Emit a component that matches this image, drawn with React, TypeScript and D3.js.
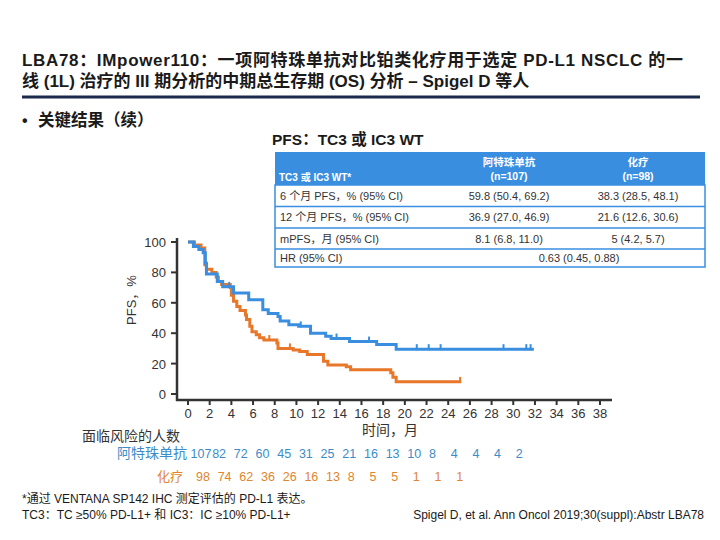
import React from "react";
import * as d3 from "d3";

const atezoTimes = [0, 0.5, 1.0, 1.4, 1.6, 1.7, 2.7, 3.2, 4.2, 5.6, 6.9, 7.4, 8.3, 8.5, 9.3, 10.2, 11.3, 12.7, 13.2, 14.9, 17.4, 19.2, 31.9];
const atezoSurv = [100, 97, 95, 93, 86, 79, 74, 70.5, 66.5, 62, 55.5, 53, 51, 48, 45.5, 44.5, 40, 38, 36.5, 34.5, 32.5, 29.5, 29.5];
const atezoCensor = [3.8, 10.4, 13.7, 16.7, 21.1, 22.2, 23.3, 29.1, 31.2, 31.6];

const chemoTimes = [0, 0.6, 1.2, 1.55, 1.7, 2.2, 2.6, 2.8, 3.1, 3.9, 4.0, 4.2, 4.5, 4.8, 5.3, 5.4, 5.7, 5.9, 6.3, 6.6, 7.0, 8.2, 8.3, 9.7, 10.3, 11.0, 12.5, 12.9, 14.6, 15.0, 18.7, 18.9, 19.2, 25.2];
const chemoSurv = [100, 98, 96, 85, 82, 80, 77, 74, 72, 70, 65, 61, 57.5, 55, 52, 49, 44.5, 41, 39, 37, 35.5, 33.5, 30, 29, 28, 26, 21.5, 19, 18, 16, 14, 11, 8, 8];
const chemoCensor = [7.5, 9.4, 25.1];

const xTicks = [0, 2, 4, 6, 8, 10, 12, 14, 16, 18, 20, 22, 24, 26, 28, 30, 32, 34, 36, 38];
const yTicks = [0, 20, 40, 60, 80, 100];

const atezoRiskTimes = [0, 2, 4, 6, 8, 10, 12, 14, 16, 18, 20, 22, 24, 26, 28, 30];
const atezoRisk = [107, 82, 72, 60, 45, 31, 25, 21, 16, 13, 10, 8, 4, 4, 4, 2];
const chemoRiskTimes = [0, 2, 4, 6, 8, 10, 12, 14, 16, 18, 20, 22, 24];
const chemoRisk = [98, 74, 62, 36, 26, 16, 13, 8, 5, 5, 1, 1, 1];

const tableRowLabels = ["6 个月 PFS，% (95% CI)", "12 个月 PFS，% (95% CI)", "mPFS，月 (95% CI)", "HR (95% CI)"];
const tableAtezo = ["59.8 (50.4, 69.2)", "36.9 (27.0, 46.9)", "8.1 (6.8, 11.0)", ""];
const tableChemo = ["38.3 (28.5, 48.1)", "21.6 (12.6, 30.6)", "5 (4.2, 5.7)", ""];
const tableHR = "0.63 (0.45, 0.88)";

const BLUE = "#3a8ee0";
const ORANGE = "#e8772a";
const FONT = "'Liberation Sans', Arial, 'Noto Sans CJK SC', sans-serif";
const TXT = "#333333";

function stepAt(times: number[], surv: number[], t: number) {
  let v = surv[0];
  for (let i = 0; i < times.length; i++) if (times[i] <= t) v = surv[i];
  return v;
}

export default function App() {
  const x = d3.scaleLinear().domain([0, 38]).range([188, 600]);
  const y = d3.scaleLinear().domain([0, 100]).range([394, 242]);
  const line = d3
    .line<[number, number]>()
    .x((d) => x(d[0]))
    .y((d) => y(d[1]))
    .curve(d3.curveStepAfter);
  const aPts = atezoTimes.map((t, i) => [t, atezoSurv[i]] as [number, number]);
  const cPts = chemoTimes.map((t, i) => [t, chemoSurv[i]] as [number, number]);

  const rowY = [185, 206.5, 228, 249, 267];
  const tL = 275, tR = 705;

  return (
    <svg width={720} height={540} style={{ position: "absolute", left: 0, top: 0, background: "#fff" }} fontFamily={FONT}>
      {/* Title */}
      <text x={22} y={66} fontSize={17} fontWeight="bold" fill="#1a1a1a" textLength={661} lengthAdjust="spacing">LBA78：IMpower110：一项阿特珠单抗对比铂类化疗用于选定 PD-L1 NSCLC 的一</text>
      <text x={22} y={87} fontSize={17} fontWeight="bold" fill="#1a1a1a">线 (1L) 治疗的 III 期分析的中期总生存期 (OS) 分析 – Spigel D 等人</text>
      <line x1={22} x2={700} y1={97} y2={97} stroke="#1b2a4a" strokeWidth={3} />

      <text x={22} y={126} fontSize={16} fontWeight="bold" fill="#1a1a1a">•</text>
      <text x={38} y={126} fontSize={16.5} fontWeight="bold" fill="#1a1a1a">关键结果（续）</text>
      <text x={272} y={145} fontSize={15.5} fontWeight="bold" fill="#1a1a1a">PFS：TC3 或 IC3 WT</text>

      {/* Table */}
      <rect x={tL} y={152} width={tR - tL} height={rowY[0] - 152} fill={BLUE} />
      <rect x={tL} y={rowY[0]} width={tR - tL} height={rowY[4] - rowY[0]} fill="#fff" stroke={BLUE} strokeWidth={1.5} />
      {rowY.slice(1, 4).map((yy, i) => (
        <line key={i} x1={tL} x2={tR} y1={yy} y2={yy} stroke={BLUE} strokeWidth={1.5} />
      ))}
      <text x={279} y={181} fontSize={10} fontWeight="bold" fill="#fff">TC3 或 IC3 WT*</text>
      <text x={509} y={166} fontSize={10.5} fontWeight="bold" fill="#fff" textAnchor="middle">阿特珠单抗</text>
      <text x={509} y={180} fontSize={10.5} fontWeight="bold" fill="#fff" textAnchor="middle">(n=107)</text>
      <text x={638} y={166} fontSize={10.5} fontWeight="bold" fill="#fff" textAnchor="middle">化疗</text>
      <text x={638} y={180} fontSize={10.5} fontWeight="bold" fill="#fff" textAnchor="middle">(n=98)</text>
      {tableRowLabels.map((lab, i) => {
        const cy = (rowY[i] + rowY[i + 1]) / 2 + 4;
        return (
          <g key={i} fontSize={11} fill={TXT}>
            <text x={280} y={cy}>{lab}</text>
            {i < 3 ? (
              <>
                <text x={509} y={cy} textAnchor="middle">{tableAtezo[i]}</text>
                <text x={638} y={cy} textAnchor="middle">{tableChemo[i]}</text>
              </>
            ) : (
              <text x={579} y={cy} textAnchor="middle">{tableHR}</text>
            )}
          </g>
        );
      })}

      {/* Axes */}
      <line x1={177} x2={177} y1={238} y2={401} stroke={TXT} strokeWidth={2.5} />
      <line x1={176} x2={612} y1={400} y2={400} stroke={TXT} strokeWidth={2.5} />
      {yTicks.map((t) => (
        <g key={t}>
          <line x1={171} x2={177} y1={y(t)} y2={y(t)} stroke={TXT} strokeWidth={2} />
          <text x={166} y={y(t) + 5} fontSize={13} fill={TXT} textAnchor="end">{t}</text>
        </g>
      ))}
      {xTicks.map((t) => (
        <g key={t}>
          <line x1={x(t)} x2={x(t)} y1={400} y2={405} stroke={TXT} strokeWidth={2} />
          <text x={x(t)} y={418} fontSize={13} fill={TXT} textAnchor="middle">{t}</text>
        </g>
      ))}
      <text transform="translate(136,300) rotate(-90)" fontSize={13} fill={TXT} textAnchor="middle">PFS，%</text>
      <text x={390} y={435} fontSize={14} fill={TXT} textAnchor="middle">时间，月</text>

      {/* Curves */}
      <path d={line(cPts) || ""} fill="none" stroke={ORANGE} strokeWidth={3} />
      <path d={line(aPts) || ""} fill="none" stroke={BLUE} strokeWidth={3} />
      {atezoCensor.map((t, i) => {
        const v = stepAt(atezoTimes, atezoSurv, t);
        return <line key={"a" + i} x1={x(t)} x2={x(t)} y1={y(v) - 5} y2={y(v) + 1} stroke={BLUE} strokeWidth={2} />;
      })}
      {chemoCensor.map((t, i) => {
        const v = stepAt(chemoTimes, chemoSurv, t);
        return <line key={"c" + i} x1={x(t)} x2={x(t)} y1={y(v) - 5} y2={y(v) + 1} stroke={ORANGE} strokeWidth={2} />;
      })}

      {/* Risk table */}
      <text x={82} y={441} fontSize={14} fill={TXT}>面临风险的人数</text>
      <text x={187} y={458} fontSize={14} fill="#3c8cc8" textAnchor="end">阿特珠单抗</text>
      {atezoRisk.map((n, i) => (
        <text key={i} x={x(atezoRiskTimes[i]) + 2.5} y={458} fontSize={12.5} fill="#3c8cc8">{n}</text>
      ))}
      <text x={183} y={481} fontSize={13} fill="#e0852e" textAnchor="end">化疗</text>
      {chemoRisk.map((n, i) => (
        <text key={i} x={x(chemoRiskTimes[i]) + 8} y={481} fontSize={12.5} fill="#e0852e">{n}</text>
      ))}

      {/* Footnotes */}
      <text x={22} y={503} fontSize={12} fill="#1a1a1a">*通过 VENTANA SP142 IHC 测定评估的 PD-L1 表达。</text>
      <text x={22} y={519} fontSize={12} fill="#1a1a1a">TC3：TC ≥50% PD-L1+ 和 IC3：IC ≥10% PD-L1+</text>
      <text x={704} y={519} fontSize={12} fill="#1a1a1a" textAnchor="end">Spigel D, et al. Ann Oncol 2019;30(suppl):Abstr LBA78</text>
    </svg>
  );
}
